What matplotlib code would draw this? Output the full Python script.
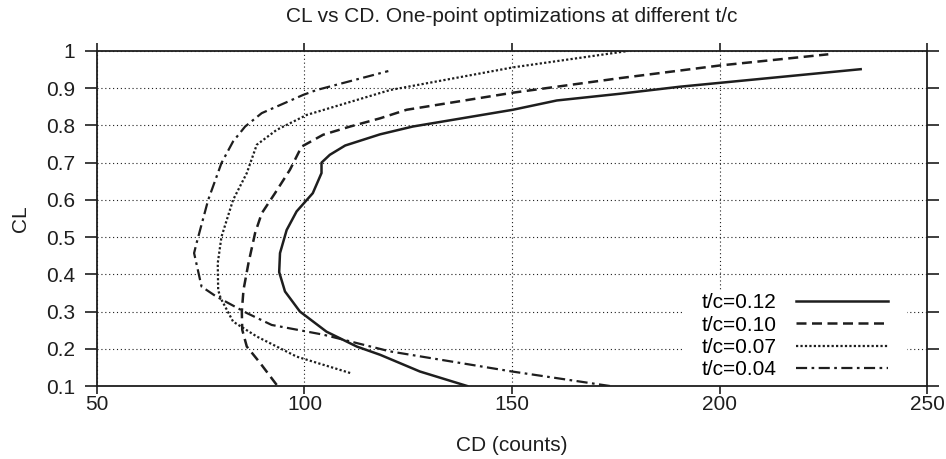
import matplotlib
matplotlib.use('Agg')
import matplotlib.pyplot as plt
from matplotlib.patches import Rectangle

plt.rcParams['font.family'] = ['Liberation Sans', 'DejaVu Sans']

# t/c = 0.12
cd_12 = [139.2, 127.8, 118.2, 112.6, 105.3, 98.9, 95.3, 93.9, 94.1, 95.7, 98.1, 102.0,
         104.1, 104.1, 106.1, 109.8, 118.2, 126.1, 150.2, 160.8, 176.0, 190.5, 234.0]
cl_12 = [0.10, 0.139, 0.184, 0.206, 0.246, 0.30, 0.354, 0.406, 0.457, 0.519, 0.569, 0.618,
         0.672, 0.70, 0.721, 0.746, 0.776, 0.797, 0.842, 0.867, 0.885, 0.904, 0.951]

# t/c = 0.10
cd_10 = [93.3, 89.3, 86.1, 85.0, 84.9, 85.3, 86.5, 88.1, 89.7, 92.9, 96.5, 99.3, 104.5,
         111.0, 118.2, 124.6, 150.3, 176.0, 200.1, 226.2]
cl_10 = [0.103, 0.162, 0.206, 0.251, 0.30, 0.358, 0.43, 0.511, 0.564, 0.618, 0.681, 0.743, 0.775,
         0.797, 0.819, 0.842, 0.888, 0.927, 0.961, 0.991]

# t/c = 0.07
cd_07 = [111.0, 98.1, 88.5, 82.8, 79.8, 79.2, 79.1, 80.0, 82.8, 86.1, 88.5, 93.3, 100.5,
         120.6, 150.3, 178.0]
cl_07 = [0.135, 0.179, 0.233, 0.273, 0.336, 0.358, 0.43, 0.501, 0.60, 0.672, 0.748, 0.788, 0.828,
         0.895, 0.956, 1.0]

# t/c = 0.04
cd_04 = [173.6, 150.0, 120.6, 104.5, 92.1, 86.1, 78.8, 75.2, 73.4, 74.0, 76.8, 80.0, 82.8,
         85.7, 89.7, 99.7, 102.9, 120.2]
cl_04 = [0.10, 0.139, 0.193, 0.238, 0.264, 0.296, 0.34, 0.367, 0.457, 0.484, 0.60, 0.699, 0.757,
         0.797, 0.833, 0.882, 0.895, 0.946]

labels = ['t/c=0.12', 't/c=0.10', 't/c=0.07', 't/c=0.04']
xticks = [50, 100, 150, 200, 250]
yticks = [0.1, 0.2, 0.3, 0.4, 0.5, 0.6, 0.7, 0.8, 0.9, 1]
ytick_labels = ['0.1', '0.2', '0.3', '0.4', '0.5', '0.6', '0.7', '0.8', '0.9', '1']

fig = plt.figure(figsize=(9.46, 4.59), dpi=100)
ax = fig.add_axes([0.1025, 0.159, 0.8775, 0.730])

k = '#1e1e1e'
ax.plot(cd_12, cl_12, color=k, lw=1.8, linestyle='-', label=labels[0])
ax.plot(cd_10, cl_10, color=k, lw=1.8, linestyle=(0, (4, 2.2)), label=labels[1])
ax.plot(cd_07, cl_07, color=k, lw=1.6, linestyle=(0, (1, 1)), label=labels[2])
ax.plot(cd_04, cl_04, color=k, lw=1.6, linestyle=(0, (5, 2, 1.2, 2)), label=labels[3])

ax.set_xlim(50, 250)
ax.set_ylim(0.1, 1)
ax.set_xticks(xticks)
ax.set_yticks(yticks)
ax.set_yticklabels(ytick_labels)
ax.tick_params(direction='out', width=1.2, labelsize=15, colors=k, top=True, right=True)
ax.tick_params(axis='x', length=5.8, pad=1)
ax.tick_params(axis='y', length=8.6, pad=7)
ax.grid(True, color=k, linestyle=(0, (1, 2.5)), linewidth=0.8)
for s in ax.spines.values():
    s.set_linewidth(1.3)
    s.set_color(k)

ax.set_title('CL vs CD. One-point optimizations at different t/c', fontsize=15, pad=21, color=k)
ax.set_xlabel('CD (counts)', fontsize=15, labelpad=15.5, color=k)
ax.set_ylabel('CL', fontsize=15, labelpad=12, color=k)

# white area behind the key, hides the grid there
ax.add_patch(Rectangle((0.706, 0.0), 0.270, 0.285, transform=ax.transAxes,
                       facecolor='white', edgecolor='none', zorder=1.8))
ax.legend(loc='lower right', bbox_to_anchor=(0.953, 0.02), frameon=False, fontsize=15,
          markerfirst=False, handlelength=4.4, handletextpad=0.95, labelspacing=0.16,
          borderpad=0, borderaxespad=0)

fig.savefig('out.png', dpi=100)
